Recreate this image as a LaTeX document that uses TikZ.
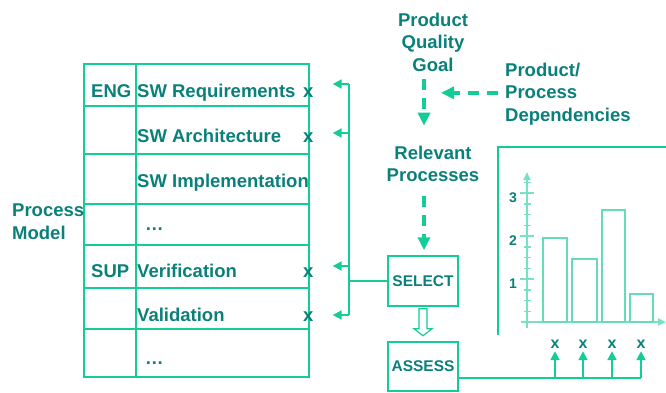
\documentclass[tikz,border=0pt]{standalone}
\usepackage{fontspec}
\setmainfont{Liberation Sans}
\usetikzlibrary{arrows.meta,positioning,calc}
\definecolor{tealtext}{RGB}{10,128,122}
\definecolor{mint}{RGB}{20,204,150}
\definecolor{lightmint}{RGB}{120,224,195}
\tikzstyle{lbl} = [text=tealtext,font=\fontsize{18.5}{22.5}\selectfont\bfseries,inner sep=0pt]
\tikzstyle{boxlbl} = [draw=mint,line width=1.5pt,text=tealtext,font=\fontsize{15.5}{18}\selectfont\bfseries,minimum width=70pt,minimum height=50pt,inner sep=0pt]
\tikzstyle{dasharr} = [draw=mint,line width=3.5pt,dash pattern=on 11pt off 8pt,-{Triangle[length=13pt,width=12pt]}]
\tikzstyle{feed} = [draw=mint,line width=2pt,-{Triangle[length=9pt,width=9pt]}]
\tikzstyle{grid} = [draw=mint,line width=1.5pt]
\tikzset{>=latex}

\begin{document}
\begin{tikzpicture}[x=1pt,y=-1pt]
    \useasboundingbox (0,0) rectangle (666,392);

    % process model table
    \draw [grid] (84,64) rectangle (309,377);
    \draw [grid] (136,64) -- (136,377);
    \foreach \y in {106,154,204,245,288,329}
      \draw [grid] (84,\y) -- (309,\y);

    \node [lbl,anchor=north west,align=left] (model) at (12,204) {Process\\Model};
    \node [lbl,anchor=base west] (eng) at (91,97) {ENG};
    \node [lbl,anchor=base west] (req) at (137,97) {SW Requirements};
    \node [lbl,anchor=base west] (arc) at (137,142) {SW Architecture};
    \node [lbl,anchor=base west] (imp) at (137,187) {SW Implementation};
    \node [lbl,anchor=base west] (dotsa) at (145,230) {\dots};
    \node [lbl,anchor=base west] (sup) at (91,277) {SUP};
    \node [lbl,anchor=base west] (ver) at (137,277) {Verification};
    \node [lbl,anchor=base west] (val) at (137,321) {Validation};
    \node [lbl,anchor=base west] (dotsb) at (145,364) {\dots};
    \node [lbl,anchor=base west] (xreq) at (303,97) {x};
    \node [lbl,anchor=base west] (xarc) at (303,142) {x};
    \node [lbl,anchor=base west] (xver) at (303,277) {x};
    \node [lbl,anchor=base west] (xval) at (303,321) {x};

    % goal and selection
    \node [lbl,anchor=north,align=center] (goal) at (433,12.5) {Product\\Quality\\Goal};
    \node [lbl,anchor=north west,align=left] (dep) at (505,62.5) {Product/\\Process\\Dependencies};
    \node [lbl,anchor=north,align=center] (rel) at (433,145.7) {Relevant\\Processes};
    \node [boxlbl] (select) at (423,281) {SELECT};
    \node [boxlbl,minimum height=49pt] (assess) at (423,366.5) {ASSESS};

    \draw [dasharr] ($(goal.south)+(-9,8)$) -- ($(rel.north)+(-9,-20)$);
    \draw [dasharr] ($(dep.west)+(-7,-1)$) -- ++(-57,0);
    \draw [dasharr] ($(rel.south)+(-9,14)$) -- ($(select.north)+(1,-5)$);
    \draw [mint,line width=1.2pt,fill=white] ($(select.south)+(-4,2)$) -- ++(0,20) -- ++(-5,0)
      -- ++(9,7) -- ++(9,-7) -- ++(-5,0) -- ++(0,-20) -- cycle;

    % feedback to the table
    \coordinate (bustop) at (349,84);
    \coordinate (busbot) at (349,315);
    \draw [mint,line width=2pt] (bustop) -- (busbot);
    \draw [mint,line width=2pt] (select.west) -- (select.west -| bustop);
    \foreach \y/\n in {84/xreq,133/xarc,266/xver,315/xval}
      \draw [feed] (349,\y) -- ([xshift=19pt]\n.east |- 349,\y);

    % profile chart
    \draw [grid] (498,335) -- (498,147) -- (666,147);
    \draw [lightmint,line width=2pt,-{Triangle[length=8pt,width=7pt]}] (527,328) -- (527,172);
    \draw [lightmint,line width=2pt,-{Triangle[length=8pt,width=7pt]}] (521,322) -- (666,322);
    \foreach \k in {1,...,13}
      \draw [lightmint,line width=1.5pt] (524,{322-10.75*\k}) -- (531,{322-10.75*\k});
    \foreach \v in {1,2,3} {
      \draw [lightmint,line width=1.5pt] (520,{322-43*\v}) -- (534,{322-43*\v});
      \node [lbl,font=\fontsize{14}{16}\selectfont\bfseries] (tick\v) at (513,{327-43*\v}) {\v};
    }
    \foreach \a/\b/\h in {543/567/1.95,572/597/1.47,602/625/2.6,630/653/0.65}
      \draw [grid,draw=lightmint!80!mint] (\a,322) rectangle (\b,{322-43*\h});

    % assessment results
    \coordinate (rail) at ($(assess.east)+(0,11.5)$);
    \foreach \x [count=\i] in {555,583,612,641}
      \node [lbl,font=\fontsize{16}{18}\selectfont\bfseries,anchor=base] (mk\i) at (\x,348) {x};
    \draw [mint,line width=2pt] (rail) -- (rail -| mk4);
    \foreach \i in {1,...,4}
      \draw [feed,shorten >=3pt] (rail -| mk\i) -- (mk\i.south);
\end{tikzpicture}
\end{document}
